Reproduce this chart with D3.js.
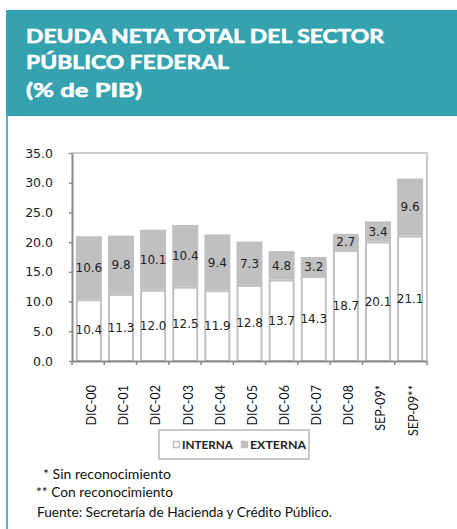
<!DOCTYPE html>
<html>
<head>
<meta charset="utf-8">
<script src="https://cdn.jsdelivr.net/npm/d3@7"></script>
<style>
  html, body { margin: 0; padding: 0; background: #ffffff; }
  svg { display: block; }
</style>
</head>
<body>
<div id="chart"></div>
<script>
// ---- Data ----
const categories = ["DIC-00","DIC-01","DIC-02","DIC-03","DIC-04","DIC-05","DIC-06","DIC-07","DIC-08","SEP-09*","SEP-09**"];
const interna = [10.4, 11.3, 12.0, 12.5, 11.9, 12.8, 13.7, 14.3, 18.7, 20.1, 21.1];
const externa = [10.6, 9.8, 10.1, 10.4, 9.4, 7.3, 4.8, 3.2, 2.7, 3.4, 9.6];
const yTicks = [0, 5, 10, 15, 20, 25, 30, 35];
const seriesNames = ["INTERNA", "EXTERNA"];
const titleLines = ["DEUDA NETA TOTAL DEL SECTOR", "PÚBLICO FEDERAL", "(% de PIB)"];
const notes = ["* Sin reconocimiento", "** Con reconocimiento", "Fuente: Secretaría de Hacienda y Crédito Público."];

// ---- Layout ----
const W = 457, H = 529;
const teal = "#35a2b0";
const gray = "#c0c0c0";
const plot = { left: 72, right: 427, top: 153, bottom: 361 };

const svg = d3.select("#chart").append("svg").attr("width", W).attr("height", H);

// Header
svg.append("rect").attr("x", 6).attr("y", 10).attr("width", W - 6).attr("height", 106).attr("fill", teal);
svg.append("rect").attr("x", 6).attr("y", 116).attr("width", 2).attr("height", H - 116).attr("fill", "#55b3bf");

const titleY = [43, 69, 97];
const titleLen = [358, 203, 116];
svg.append("g").selectAll("text").data(titleLines).join("text")
  .attr("x", 26).attr("y", (d, i) => titleY[i])
  .attr("textLength", (d, i) => titleLen[i]).attr("lengthAdjust", "spacingAndGlyphs")
  .attr("fill", "#ffffff").attr("stroke", "#ffffff").attr("stroke-width", 0.6)
  .attr("font-family", "Lato, 'Open Sans', sans-serif")
  .attr("font-weight", "bold").attr("font-size", 19.5)
  .text(d => d);

// Scales
const x = d3.scaleBand().domain(categories).range([plot.left, plot.right]).paddingInner(0.19).paddingOuter(0.12);
const y = d3.scaleLinear().domain([0, 35]).range([plot.bottom, plot.top]);

// Plot frame (top & right)
svg.append("path")
  .attr("d", `M${plot.left},${plot.top}H${plot.right}V${plot.bottom}`)
  .attr("fill", "none").attr("stroke", "#cccccc").attr("stroke-width", 2);

// Bars
const data = categories.map((c, i) => ({ c, a: interna[i], b: externa[i] }));
const bw = x.bandwidth();

const gBars = svg.append("g");
// externa (gray fill)
gBars.selectAll("rect.ext").data(data).join("rect").attr("class", "ext")
  .attr("x", d => x(d.c)).attr("width", bw)
  .attr("y", d => y(d.a + d.b)).attr("height", d => y(d.a) - y(d.a + d.b))
  .attr("fill", gray);
// interna (white with gray outline)
gBars.selectAll("rect.int").data(data).join("rect").attr("class", "int")
  .attr("x", d => x(d.c) + 1).attr("width", bw - 2)
  .attr("y", d => y(d.a) + 1).attr("height", d => y(0) - y(d.a) - 1)
  .attr("fill", "#ffffff").attr("stroke", gray).attr("stroke-width", 2);

// Bar value labels
const labelFont = "'DejaVu Sans', Verdana, sans-serif";
gBars.selectAll("text.li").data(data).join("text").attr("class", "li")
  .attr("x", d => x(d.c) + bw / 2).attr("y", d => y(d.a / 2)).attr("dy", "0.36em")
  .attr("text-anchor", "middle").attr("font-family", labelFont).attr("font-size", 12).attr("fill", "#222")
  .text(d => d.a.toFixed(1));
gBars.selectAll("text.le").data(data).join("text").attr("class", "le")
  .attr("x", d => x(d.c) + bw / 2).attr("y", d => y(d.a + d.b / 2)).attr("dy", "0.36em")
  .attr("text-anchor", "middle").attr("font-family", labelFont).attr("font-size", 12).attr("fill", "#222")
  .text(d => d.b.toFixed(1));

// Y axis
const yAxis = svg.append("g").attr("transform", `translate(${plot.left},0)`)
  .call(d3.axisLeft(y).tickValues(yTicks).tickFormat(d3.format(".1f")).tickSize(3).tickSizeOuter(0).tickPadding(16));
yAxis.select(".domain").attr("stroke", "#8a8a8a").attr("stroke-width", 2);
yAxis.selectAll(".tick line").attr("stroke", "#8a8a8a").attr("stroke-width", 1.5);
yAxis.selectAll(".tick text").attr("font-family", labelFont).attr("font-size", 12.5).attr("fill", "#222");

// X axis (labels)
const xAxis = svg.append("g").attr("transform", `translate(0,${plot.bottom})`)
  .call(d3.axisBottom(x).tickSize(0).tickSizeOuter(0));
xAxis.select(".domain").attr("stroke", "#8a8a8a").attr("stroke-width", 2);
xAxis.selectAll(".tick text")
  .attr("transform", "rotate(-90)")
  .attr("x", -24).attr("y", 3).attr("dy", "0.35em")
  .attr("text-anchor", "end")
  .attr("font-family", "Lato, sans-serif").attr("font-size", 12.5).attr("fill", "#111");

// X boundary tick marks
const boundaries = d3.range(categories.length + 1).map(k => plot.left + k * (plot.right - plot.left) / categories.length);
svg.append("g").selectAll("line").data(boundaries).join("line")
  .attr("x1", d => d).attr("x2", d => d).attr("y1", plot.bottom).attr("y2", plot.bottom + 4)
  .attr("stroke", "#8a8a8a").attr("stroke-width", 1.5);

// Legend
const lg = svg.append("g");
lg.append("rect").attr("x", 159).attr("y", 430).attr("width", 150).attr("height", 29)
  .attr("fill", "#ffffff").attr("stroke", "#c8c8c8").attr("stroke-width", 2);
const legX = [173, 241];
const legTX = [182, 250];
const legLen = [51, 56];
seriesNames.forEach((s, i) => {
  lg.append("rect").attr("x", legX[i] + 0.5).attr("y", 441.5).attr("width", 6).attr("height", 6)
    .attr("fill", i === 0 ? "#ffffff" : gray).attr("stroke", gray).attr("stroke-width", 1.5);
  lg.append("text").attr("x", legTX[i]).attr("y", 448.5)
    .attr("textLength", legLen[i]).attr("lengthAdjust", "spacingAndGlyphs")
    .attr("font-family", "Lato, sans-serif").attr("font-weight", "bold").attr("font-size", 11.5).attr("fill", "#222")
    .text(s);
});

// Footnotes
const noteX = [43, 36, 37];
const noteY = [479, 497, 516.5];
const noteLen = [128, 137, 295];
svg.append("g").selectAll("text").data(notes).join("text")
  .attr("x", (d, i) => noteX[i]).attr("y", (d, i) => noteY[i])
  .attr("textLength", (d, i) => noteLen[i]).attr("lengthAdjust", "spacingAndGlyphs")
  .attr("font-family", "Lato, sans-serif").attr("font-size", 12.5).attr("fill", "#111")
  .text(d => d);
</script>
</body>
</html>
